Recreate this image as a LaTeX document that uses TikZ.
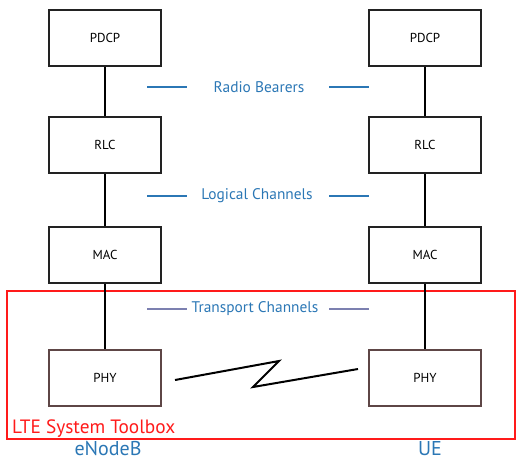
\documentclass[tikz,border=0pt]{standalone}
\usepackage{fontspec}
\setmainfont{PT Sans}
\definecolor{lblue}{HTML}{2B77B5}
\definecolor{tline}{HTML}{7C80B0}
\definecolor{lred}{HTML}{FF1A1A}
\definecolor{boxgray}{HTML}{222222}
\definecolor{phygray}{HTML}{5E4646}
\begin{document}
\begin{tikzpicture}[x=1pt,y=-1pt,
  layer/.style={draw=boxgray,line width=1.1pt,minimum width=112pt,minimum height=56pt,inner sep=0pt,font=\fontsize{13}{14}\selectfont},
  phybox/.style={layer,draw=phygray},
  link/.style={line width=2pt,black},
  chan/.style={text=lblue,font=\fontsize{15.4}{17}\selectfont},
  chanline/.style={draw=lblue,line width=1.1pt},
  tchanline/.style={draw=tline,line width=1.1pt},
  side/.style={text=lblue,font=\fontsize{20}{21}\selectfont,anchor=base,inner sep=0pt}]
\useasboundingbox (0,0) rectangle (516,461);
% red toolbox frame
\draw[lred,line width=1.2pt] (7,291) rectangle (515,439);
\node[anchor=base west,text=lred,font=\fontsize{19.3}{21}\selectfont,inner sep=0pt] (tb) at (12,433) {LTE System Toolbox};
% eNodeB stack
\node[layer] (pdcpL) at (105,38) {PDCP};
\node[layer] (rlcL) at (105,145) {RLC};
\node[layer] (macL) at (105,255) {MAC};
\node[phybox] (phyL) at (105,378) {PHY};
% UE stack
\node[layer] (pdcpR) at (425,38) {PDCP};
\node[layer] (rlcR) at (425,145) {RLC};
\node[layer] (macR) at (425,255) {MAC};
\node[phybox] (phyR) at (425,378) {PHY};
% links
\draw[link] (pdcpL) -- (rlcL);
\draw[link] (rlcL) -- (macL);
\draw[link] (macL) -- (phyL);
\draw[link] (pdcpR) -- (rlcR);
\draw[link] (rlcR) -- (macR);
\draw[link] (macR) -- (phyR);
% channel labels
\node[chan] (rb) at (259,87) {Radio Bearers};
\node[chan] (lc) at (257,196) {Logical Channels};
\node[chan] (tc) at (255,309) {Transport Channels};
\coordinate (rbl1) at (147,87); \coordinate (rbl2) at (187,87);
\coordinate (rbr1) at (329,87); \coordinate (rbr2) at (369,87);
\draw[chanline] (rbl1) -- (rbl2);
\draw[chanline] (rbr1) -- (rbr2);
\coordinate (lcl1) at (147,196); \coordinate (lcl2) at (187,196);
\coordinate (lcr1) at (329,196); \coordinate (lcr2) at (369,196);
\draw[chanline] (lcl1) -- (lcl2);
\draw[chanline] (lcr1) -- (lcr2);
\coordinate (tcl1) at (147,309); \coordinate (tcl2) at (187,309);
\coordinate (tcr1) at (329,309); \coordinate (tcr2) at (369,309);
\draw[tchanline] (tcl1) -- (tcl2);
\draw[tchanline] (tcr1) -- (tcr2);
% radio link zigzag
\coordinate (z1) at (175,380);
\coordinate (z2) at (279,361);
\coordinate (z3) at (253,387);
\coordinate (z4) at (358,369);
\draw[line width=2pt,line join=miter] (z1) -- (z2) -- (z3) -- (z4);
% side labels
\node[side] (enb) at (108,455.5) {eNodeB};
\node[side] (ue) at (430,455.5) {UE};
\end{tikzpicture}
\end{document}
